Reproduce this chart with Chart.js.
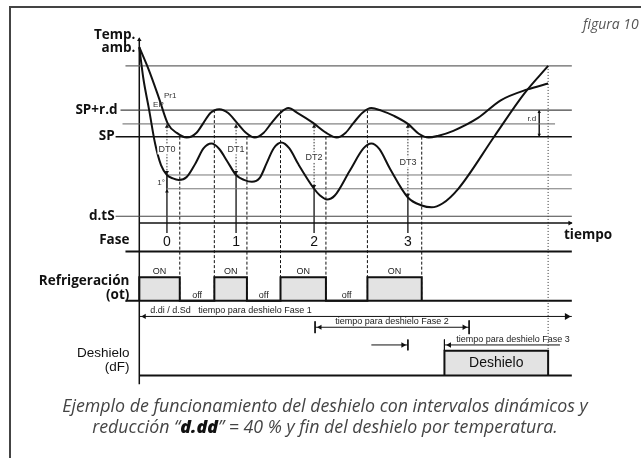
<!DOCTYPE html>
<html>
<head>
<meta charset="utf-8">
<script src="https://cdn.jsdelivr.net/npm/chart.js@4.4.0/dist/chart.umd.min.js"></script>
<style>
  html, body { margin: 0; padding: 0; background: #fff; }
  #wrap { position: relative; width: 641px; height: 458px; overflow: hidden; }
  #frame { position: absolute; left: 9px; top: 6px; width: 700px; height: 500px;
           border-top: 2px solid #444; border-left: 2px solid #444; }
  #fig { position: absolute; left: 583px; top: 14px; font: italic 14px "Open Sans"; color: #555; white-space: nowrap; }
  #caption { position: absolute; left: 9px; right: 0; top: 395px; text-align: center;
             font: italic 17.8px/21px "Open Sans"; color: #444; }
  #caption b { font-style: italic; font-weight: 800; color: #111; }
  canvas { position: absolute; left: 0; top: 0; }
</style>
</head>
<body>
<div id="wrap">
  <div id="frame"></div>
  <canvas id="diagram" width="641" height="458"></canvas>
  <div id="fig">figura 10</div>
  <div id="caption">
    <div>Ejemplo de funcionamiento del deshielo con intervalos dinámicos y</div>
    <div>reducción “<b>d.dd</b>” = 40 % y fin del deshielo por temperatura.</div>
  </div>
</div>
<script>
// time in arbitrary units from the start, temperature relative to SP
const pr1Time = [0, 1.0, 2.0, 2.9, 3.8, 4.8, 5.8, 6.5, 7.2, 8.1, 9.0, 9.9, 10.8, 11.7, 12.6, 13.4, 14.3, 15.1, 16.0, 17.6,
                 18.9, 20.0, 20.9, 21.7, 22.6, 23.5, 24.5, 25.8, 27.2, 28.3, 29.3, 30.3, 31.8, 34.3, 36.6, 39.3, 41.4];
const pr1Temp = [6.74, 4.96, 2.89, 0.96, 0.28, -0.07, 0.30, 1.04, 1.78, 2.07, 1.78, 1.04, 0.30, -0.07, 0.30, 1.04, 1.80, 2.15, 1.80, 1.04,
                 0.30, -0.07, 0.30, 1.04, 1.80, 2.15, 1.96, 1.56, 0.96, 0.22, -0.07, 0.07, 0.44, 1.41, 2.74, 3.56, 4.00];

const epTime = [0, 0.4, 1.0, 1.6, 2.2, 2.8, 3.4, 4.0, 4.8, 5.7, 6.5, 7.3, 8.1, 8.9, 9.8, 10.6, 11.4, 12.2, 12.9, 13.6,
                14.4, 15.2, 16.1, 17.7, 18.3, 19.0, 19.8, 21.3, 22.7, 23.5, 24.3, 25.4, 27.2, 28.6, 29.6, 30.7, 32.3, 36.0, 39.0, 41.4];
const epTemp = [6.74, 4.44, 2.0, -0.52, -2.15, -2.89, -3.15, -3.26, -3.04, -2.0, -0.89, -0.52, -0.93, -1.85, -2.89, -3.26, -3.41, -3.11, -2.0, -0.89,
                -0.44, -0.89, -2.07, -3.93, -4.44, -4.74, -4.44, -2.59, -0.89, -0.52, -0.93, -2.44, -4.59, -5.19, -5.33, -5.04, -3.93, 0.07, 3.26, 5.33];

const levelNames = ['SP+r.d', 'SP', 'd.tS'];
const levelTemps = [2, 0, -6];
const guideTemps = [5.33, 0.96, -2.89, -3.93];

const phaseNames = ['0', '1', '2', '3'];
const phaseTimes = [2.8, 9.8, 17.7, 27.2];
const dtNames = ['DT0', 'DT1', 'DT2', 'DT3'];
const dtEvapTemps = [-2.89, -2.89, -3.93, -4.59];
const triggerTemp = 0.96;

const refOnTimes = [0, 7.6, 14.3, 23.1];
const refOffTimes = [4.1, 10.9, 18.9, 28.6];
const defrostStart = 30.9;
const defrostEnd = 41.4;

const fase1Span = [0, 43.8];
const fase2Span = [17.8, 33.4];
const fase3Span = [30.9, 42.6];
const waitSpan = [23.5, 27.2];
const timeEnd = 43.8;

// lanes of the lower strip
const FASE = 2, REF_OFF = 0, REF_ON = 0.96, DF_OFF = -3.04, DF_ON = -2.04;
const laneToTemp = l => (-167 + 25 * l) / 13.5;

function seg(points, style, axis) {
  return Object.assign({
    data: points.map(p => ({ x: p[0], y: p[1] })),
    yAxisID: axis || 'y', showLine: true, borderColor: '#111', borderWidth: 1,
    pointRadius: 0, fill: false, tension: 0
  }, style || {});
}
function heads(list, axis) {
  return {
    data: list.map(h => ({ x: h[0], y: h[1] })),
    yAxisID: axis || 'y', showLine: false, pointStyle: 'triangle',
    pointRotation: list.map(h => h[2]), pointRadius: list.map(h => h[3] || 2.6),
    pointBackgroundColor: '#111', pointBorderColor: '#111', pointBorderWidth: 0
  };
}

const datasets = [];
datasets.push(seg(pr1Time.map((t, i) => [t, pr1Temp[i]]), { borderWidth: 2, cubicInterpolationMode: 'monotone' }));
datasets.push(seg(epTime.map((t, i) => [t, epTemp[i]]), { borderWidth: 2, cubicInterpolationMode: 'monotone' }));

// reference lines
datasets.push(seg([[-1.4, guideTemps[0]], [timeEnd, guideTemps[0]]], { borderColor: '#666', borderWidth: 1.3 }));
datasets.push(seg([[-1.9, levelTemps[0]], [timeEnd, levelTemps[0]]], { borderColor: '#444', borderWidth: 1.2 }));
datasets.push(seg([[-1.7, guideTemps[1]], [42.1, guideTemps[1]]], { borderColor: '#666', borderWidth: 1 }));
datasets.push(seg([[-2.4, levelTemps[1]], [timeEnd, levelTemps[1]]], { borderWidth: 1.5 }));
datasets.push(seg([[2.8, guideTemps[2]], [timeEnd, guideTemps[2]]], { borderColor: '#777', borderWidth: 1 }));
datasets.push(seg([[2.8, guideTemps[3]], [timeEnd, guideTemps[3]]], { borderColor: '#777', borderWidth: 1 }));
datasets.push(seg([[-2.4, levelTemps[2]], [timeEnd, levelTemps[2]]], { borderColor: '#444', borderWidth: 1.2 }));

// axes
datasets.push(seg([[0, -6.52], [timeEnd, -6.52]], { borderWidth: 1.5 }));
datasets.push(seg([[0, 7.4], [0, laneToTemp(-3.4)]], { borderWidth: 1.5 }));
datasets.push(heads([[0, 7.3, 0, 2.6], [timeEnd - 0.2, -6.52, 90, 2.8]]));

// switching instants
refOffTimes.forEach(t => datasets.push(seg([[t, levelTemps[1]], [t, laneToTemp(REF_OFF)]], { borderDash: [3, 2] })));
refOnTimes.slice(1).forEach(t => datasets.push(seg([[t, levelTemps[0]], [t, laneToTemp(REF_OFF)]], { borderDash: [3, 2] })));
datasets.push(seg([[defrostEnd, guideTemps[0]], [defrostEnd, laneToTemp(DF_ON)]], { borderDash: [1, 2], borderColor: '#333' }));

// phase arrows
const phaseHeads = [];
phaseTimes.forEach((t, i) => {
  datasets.push(seg([[t, triggerTemp], [t, dtEvapTemps[i]]], { borderDash: [1.5, 1.5], borderColor: '#333' }));
  const solidTop = i === 0 ? guideTemps[3] : dtEvapTemps[i];
  datasets.push(seg([[t, solidTop], [t, -7.26]], { borderWidth: 1.3 }));
  phaseHeads.push([t, triggerTemp - 0.2, 0, 2.4], [t, dtEvapTemps[i] + 0.2, 180, 2.4]);
  if (i === 0) phaseHeads.push([t, guideTemps[3] - 0.2, 0, 2.2]);
});
datasets.push(seg([[phaseTimes[0], guideTemps[2]], [phaseTimes[0], guideTemps[3]]], { borderWidth: 0.8 }));
datasets.push(heads(phaseHeads));

// r.d span
datasets.push(seg([[40.5, levelTemps[0]], [40.5, levelTemps[1]]], { borderWidth: 0.8 }));
datasets.push(heads([[40.5, levelTemps[0] - 0.15, 0, 2], [40.5, levelTemps[1] + 0.15, 180, 2]]));

// lower strip lines
datasets.push(seg([[-1.4, FASE], [timeEnd, FASE]], { borderWidth: 2 }, 'lane'));
datasets.push(seg([[-1.4, REF_OFF], [timeEnd, REF_OFF]], { borderWidth: 2 }, 'lane'));
datasets.push(seg([[0, DF_OFF], [timeEnd, DF_OFF]], { borderWidth: 2 }, 'lane'));

// refrigeration state
const refPts = [[0, REF_OFF]];
refOnTimes.forEach((t, i) => { refPts.push([t, REF_ON], [refOffTimes[i], REF_OFF]); });
datasets.push(seg(refPts, { stepped: true, borderWidth: 2, fill: 'origin', backgroundColor: '#e3e3e3' }, 'lane'));

// defrost state
datasets.push(seg([[defrostStart, DF_OFF], [defrostStart, DF_ON], [defrostEnd, DF_OFF]],
  { stepped: true, borderWidth: 2, fill: { value: DF_OFF }, backgroundColor: '#e3e3e3' }, 'lane'));

// time spans
datasets.push(seg([[fase1Span[0], -0.64], [fase1Span[1], -0.64]], {}, 'lane'));
datasets.push(seg([[fase2Span[0], -1.08], [fase2Span[1], -1.08]], {}, 'lane'));
datasets.push(seg([[fase2Span[0], -0.84], [fase2Span[0], -1.32]], {}, 'lane'));
datasets.push(seg([[fase2Span[1], -0.8], [fase2Span[1], -1.36]], {}, 'lane'));
datasets.push(seg([[waitSpan[0], -1.8], [waitSpan[1], -1.8]], {}, 'lane'));
datasets.push(seg([[waitSpan[1], -1.58], [waitSpan[1], -2.02]], {}, 'lane'));
datasets.push(seg([[fase3Span[0], -1.8], [fase3Span[1], -1.8]], {}, 'lane'));
datasets.push(seg([[fase3Span[0], -1.58], [fase3Span[0], -2.02]], {}, 'lane'));
datasets.push(heads([
  [fase1Span[0] + 0.5, -0.64, 270, 3], [fase1Span[1] - 0.5, -0.64, 90, 4],
  [fase2Span[0] + 0.5, -1.08, 270, 3], [fase2Span[1] - 0.5, -1.08, 90, 3.2],
  [waitSpan[1] - 0.5, -1.8, 90, 3.2], [fase3Span[0] + 0.5, -1.8, 270, 3.2]
], 'lane'));

const small = '9px "Liberation Sans"';
const bold = 'bold 13.5px "Open Sans"';
const labels = [
  { text: 'Temp.', t: -0.4, v: 7.63, font: bold, align: 'right' },
  { text: 'amb.', t: -0.4, v: 6.67, font: bold, align: 'right' },
  { text: levelNames[0], t: -2.2, v: levelTemps[0], font: bold, align: 'right' },
  { text: levelNames[1], t: -2.5, v: levelTemps[1], font: bold, align: 'right' },
  { text: levelNames[2], t: -2.5, v: levelTemps[2], font: bold, align: 'right' },
  { text: 'tiempo', t: 43, v: -7.41, font: bold, align: 'left' },
  { text: 'Pr1', t: 2.5, v: 3.11, font: '8px "Liberation Sans"', color: '#333', align: 'left' },
  { text: 'EP', t: 1.4, v: 2.37, font: '8px "Liberation Sans"', color: '#333', align: 'left' },
  { text: '1°', t: 2.6, v: -3.48, font: '8px "Liberation Sans"', color: '#333', align: 'right' },
  { text: 'r.d', t: 40.2, v: 1.33, font: '8px "Liberation Sans"', color: '#333', align: 'right' },
  { text: 'Fase', t: -1.0, v: 2.48, axis: 'lane', font: bold, align: 'right' },
  { text: 'Refrigeración', t: -1.0, v: 0.8, axis: 'lane', font: bold, align: 'right' },
  { text: '(ot)', t: -1.0, v: 0.24, axis: 'lane', font: bold, align: 'right' },
  { text: 'Deshielo', t: -1.0, v: -2.12, axis: 'lane', font: '13.5px "Liberation Sans"', align: 'right' },
  { text: '(dF)', t: -1.0, v: -2.72, axis: 'lane', font: '13.5px "Liberation Sans"', align: 'right' },
  { text: 'd.di / d.Sd   tiempo para deshielo Fase 1', t: 1.1, v: -0.4, axis: 'lane', font: small, color: '#222', align: 'left' },
  { text: 'tiempo para deshielo Fase 2', t: 25.6, v: -0.84, axis: 'lane', font: small, color: '#222' },
  { text: 'tiempo para deshielo Fase 3', t: 32.1, v: -1.56, axis: 'lane', font: small, color: '#222', align: 'left' },
  { text: 'Deshielo', t: (defrostStart + defrostEnd) / 2, v: -2.54, axis: 'lane', font: '14px "Liberation Sans"' }
];
phaseTimes.forEach((t, i) => {
  labels.push({ text: phaseNames[i], t: t, v: 2.4, axis: 'lane', font: '14px "Liberation Sans"' });
  const mid = [-0.96, -0.96, -1.56, -1.93][i];
  labels.push({ text: dtNames[i], t: t, v: mid, font: small, color: '#333', bg: true });
});
refOnTimes.forEach((t, i) => labels.push({ text: 'ON', t: (t + refOffTimes[i]) / 2, v: 1.2, axis: 'lane', font: small, color: '#222' }));
refOffTimes.slice(0, 3).forEach((t, i) => labels.push({ text: 'off', t: (t + refOnTimes[i + 1]) / 2, v: 0.2, axis: 'lane', font: small, color: '#222' }));

const labelPlugin = {
  id: 'diagramLabels',
  afterDatasetsDraw(chart) {
    const { ctx, scales } = chart;
    labels.forEach(l => {
      const x = scales.x.getPixelForValue(l.t);
      const y = scales[l.axis || 'y'].getPixelForValue(l.v);
      ctx.save();
      ctx.font = l.font;
      ctx.textAlign = l.align || 'center';
      ctx.textBaseline = 'middle';
      if (l.bg) {
        const w = ctx.measureText(l.text).width;
        ctx.fillStyle = '#fff';
        ctx.fillRect(x - w / 2 - 1, y - 5, w + 2, 10);
      }
      ctx.fillStyle = l.color || '#111';
      ctx.fillText(l.text, x, y);
      ctx.restore();
    });
  }
};

new Chart(document.getElementById('diagram'), {
  type: 'scatter',
  data: { datasets },
  options: {
    responsive: false,
    animation: false,
    layout: { padding: 0 },
    plugins: { legend: { display: false }, tooltip: { enabled: false } },
    scales: {
      x: { type: 'linear', display: false, min: -13.7, max: 50.4 },
      y: { type: 'linear', display: false, min: -23.926, max: 10 },
      lane: { type: 'linear', display: false, min: -6.24, max: 12.08 }
    }
  },
  plugins: [labelPlugin]
});
</script>
</body>
</html>
